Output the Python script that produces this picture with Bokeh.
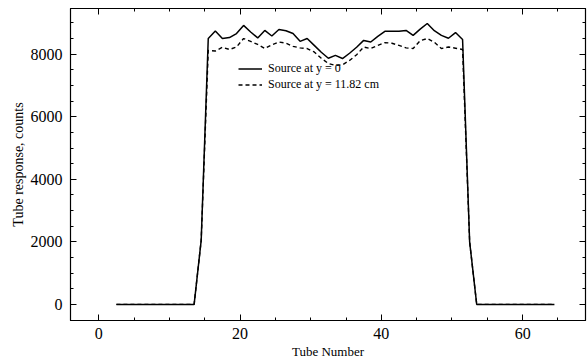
from bokeh.plotting import figure
from bokeh.models import (Range1d, LinearAxis, SingleIntervalTicker, Legend, LegendItem,
                          CustomJSTickFormatter)
from bokeh.embed import file_html
from bokeh.resources import INLINE

tubes = [2.5, 3.5, 4.5, 5.5, 6.5, 7.5, 8.5, 9.5, 10.5, 11.5, 12.5, 13.5,
         14.5, 15.5, 16.5, 17.5, 18.5, 19.5, 20.5, 21.5, 22.5, 23.5, 24.5,
         25.5, 26.5, 27.5, 28.5, 29.5, 30.5, 31.5, 32.5, 33.5, 34.5, 35.5,
         36.5, 37.5, 38.5, 39.5, 40.5, 41.5, 42.5, 43.5, 44.5, 45.5, 46.5,
         47.5, 48.5, 49.5, 50.5, 51.5, 52.5, 53.5, 54.5, 55.5, 56.5, 57.5,
         58.5, 59.5, 60.5, 61.5, 62.5, 63.5, 64.5]

source_y0 = [0, 0, 0, 0, 0, 0, 0, 0, 0, 0, 0, 0,
             2050, 8500, 8740, 8500, 8530, 8660, 8920, 8710, 8520, 8760, 8580,
             8790, 8750, 8660, 8410, 8500, 8280, 8060, 7870, 7960, 7860, 8030,
             8220, 8440, 8390, 8570, 8730, 8730, 8730, 8760, 8600, 8800, 8980,
             8750, 8600, 8510, 8690, 8470, 2000, 0, 0, 0, 0, 0,
             0, 0, 0, 0, 0, 0, 0]

source_y1182 = [0, 0, 0, 0, 0, 0, 0, 0, 0, 0, 0, 0,
                2050, 8120, 8100, 8220, 8150, 8230, 8500, 8410, 8310, 8180, 8300,
                8390, 8350, 8250, 8200, 8180, 8070, 7870, 7700, 7640, 7660, 7800,
                7980, 8230, 8180, 8280, 8370, 8350, 8280, 8200, 8180, 8430, 8500,
                8380, 8180, 8230, 8190, 8150, 2000, 0, 0, 0, 0, 0,
                0, 0, 0, 0, 0, 0, 0]

label_solid = "Source at y = 0"
label_dashed = "Source at y = 11.82 cm"
x_title = "Tube Number"
y_title = "Tube response, counts"

FONT = "Liberation Serif"

p = figure(width=587, height=361, output_backend="svg", toolbar_location=None,
           x_range=Range1d(-4, 68.9), y_range=Range1d(-514, 9460),
           min_border_left=70, min_border_right=2, min_border_top=8, min_border_bottom=0)
p.background_fill_color = "white"
p.border_fill_color = "white"
p.outline_line_color = "black"
p.outline_line_width = 1.2
p.grid.visible = False

r1 = p.line(tubes, source_y0, line_color="black", line_width=1.5)
r2 = p.line(tubes, source_y1182, line_color="black", line_width=1.4, line_dash="4 3")

for ax in (p.xaxis[0], p.yaxis[0]):
    ax.major_tick_in = 6
    ax.major_tick_out = 0
    ax.minor_tick_in = 3
    ax.minor_tick_out = 0
    ax.axis_line_color = "black"
    ax.major_label_text_font = FONT
    ax.major_label_text_font_size = "16px"
    ax.major_label_text_color = "black"
    ax.axis_label_text_font = FONT
    ax.axis_label_text_font_size = "13px"
    ax.axis_label_text_font_style = "normal"
    ax.axis_label_text_color = "black"

p.xaxis[0].major_label_standoff = 7
p.yaxis[0].major_label_standoff = 8
p.yaxis[0].axis_label_text_font_size = "14px"
p.xaxis[0].ticker = SingleIntervalTicker(interval=20, num_minor_ticks=4)
p.yaxis[0].ticker = SingleIntervalTicker(interval=2000, num_minor_ticks=4)
p.xaxis[0].axis_label = x_title
p.yaxis[0].axis_label = y_title
p.xaxis[0].axis_label_standoff = 2
p.yaxis[0].axis_label_standoff = 2

top_ax = LinearAxis(ticker=SingleIntervalTicker(interval=20, num_minor_ticks=4),
                    formatter=CustomJSTickFormatter(code="return ''"),
                    major_tick_in=6, major_tick_out=0, minor_tick_in=3, minor_tick_out=0,
                    major_label_standoff=0)
right_ax = LinearAxis(ticker=SingleIntervalTicker(interval=2000, num_minor_ticks=4),
                      formatter=CustomJSTickFormatter(code="return ''"),
                      major_tick_in=6, major_tick_out=0, minor_tick_in=3, minor_tick_out=0,
                      major_label_standoff=0)
p.add_layout(top_ax, "above")
p.add_layout(right_ax, "right")

legend = Legend(items=[LegendItem(label=label_solid, renderers=[r1]),
                       LegendItem(label=label_dashed, renderers=[r2])],
                location=(168, 228))
legend.label_text_font = FONT
legend.label_text_font_size = "12px"
legend.label_text_color = "black"
legend.border_line_alpha = 0
legend.background_fill_alpha = 0
legend.glyph_width = 24
legend.glyph_height = 13
legend.label_height = 13
legend.spacing = 1
legend.padding = 0
legend.margin = 0
legend.label_standoff = 6
p.add_layout(legend, "center")

open("out.html", "w").write(file_html(p, INLINE))
